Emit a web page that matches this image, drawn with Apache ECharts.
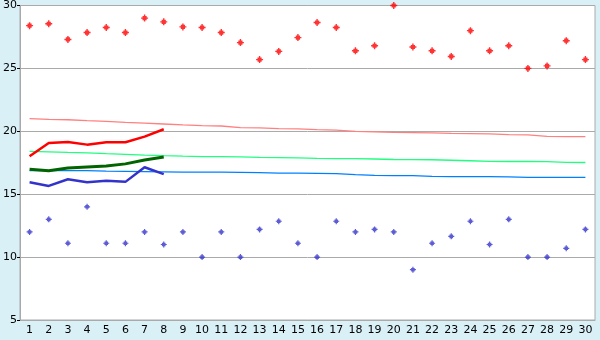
<!DOCTYPE html>
<html><head><meta charset="utf-8">
<script src="https://cdn.jsdelivr.net/npm/echarts@6/dist/echarts.min.js"></script>
<style>html,body{margin:0;padding:0;background:#daf0f7}#c{width:600px;height:340px}</style>
</head><body><div id="c"></div>
<script>
var categories = ['1','2','3','4','5','6','7','8','9','10','11','12','13','14','15','16','17','18','19','20','21','22','23','24','25','26','27','28','29','30'];
var yTicks = [5, 10, 15, 20, 25, 30];
var maxPoints = [28.4,28.55,27.3,27.85,28.25,27.85,29.0,28.7,28.3,28.25,27.85,27.05,25.7,26.35,27.45,28.65,28.25,26.4,26.8,30.0,26.7,26.4,25.95,28.0,26.4,26.8,25.0,25.2,27.2,25.7];
var minPoints = [12.0,13.0,11.1,14.0,11.1,11.1,12.0,11.0,12.0,10.0,12.0,10.0,12.2,12.85,11.1,10.0,12.85,12.0,12.2,12.0,9.0,11.1,11.65,12.85,11.0,13.0,10.0,10.0,10.7,12.2];
var avgMaxLine = [21.0,20.95,20.92,20.85,20.79,20.71,20.65,20.58,20.51,20.45,20.42,20.3,20.27,20.21,20.19,20.13,20.1,19.99,19.96,19.91,19.9,19.88,19.83,19.81,19.79,19.74,19.71,19.6,19.58,19.58];
var avgMeanLine = [18.4,18.37,18.32,18.28,18.22,18.17,18.11,18.06,18.02,17.99,17.98,17.96,17.92,17.91,17.89,17.84,17.83,17.82,17.8,17.76,17.75,17.74,17.7,17.66,17.61,17.6,17.6,17.59,17.53,17.52];
var avgMinLine = [16.88,16.88,16.88,16.87,16.84,16.82,16.8,16.78,16.76,16.75,16.75,16.74,16.72,16.68,16.67,16.66,16.64,16.55,16.49,16.48,16.48,16.42,16.4,16.4,16.4,16.37,16.33,16.33,16.33,16.33];
var curMax = [18.02,19.07,19.15,18.94,19.13,19.13,19.58,20.16];
var curMean = [16.98,16.86,17.09,17.17,17.25,17.41,17.72,17.96];
var curMin = [15.95,15.66,16.19,15.95,16.06,15.98,17.14,16.59];

var markPath = 'path://M2,0 L3,0 L3,1 L4,1 L4,2 L5,2 L5,3 L4,3 L4,4 L3,4 L3,5 L2,5 L2,4 L1,4 L1,3 L0,3 L0,2 L1,2 L1,1 L2,1 Z';
var chart = echarts.init(document.getElementById('c'), null, {renderer:'canvas'});
var font = {fontFamily:'DejaVu Sans', fontSize:11, color:'#000'};
chart.setOption({
  backgroundColor:'#daf0f7',
  animation:false,
  grid:{left:20, right:5, top:5, bottom:20, show:true, backgroundColor:'#fff', borderColor:'#aaa', borderWidth:1},
  xAxis:{type:'category', data:categories, boundaryGap:true,
    axisLine:{lineStyle:{color:'#aaa'}},
    axisTick:{alignWithLabel:true, length:4, lineStyle:{color:'#000'}},
    axisLabel:Object.assign({margin:5, interval:0}, font),
    splitLine:{show:false}},
  yAxis:{type:'value', min:yTicks[0], max:yTicks[yTicks.length-1], interval:5,
    axisLine:{show:true, lineStyle:{color:'#aaa'}},
    axisTick:{show:true, length:3, lineStyle:{color:'#000'}},
    axisLabel:Object.assign({margin:3}, font),
    splitLine:{show:true, lineStyle:{color:'#aaa', width:1}}},
  series:[
    {type:'line', data:avgMaxLine, symbol:'none', lineStyle:{color:'#ff8080', width:1.3}, z:2},
    {type:'line', data:avgMeanLine, symbol:'none', lineStyle:{color:'#20ff80', width:1.3}, z:2},
    {type:'line', data:avgMinLine, symbol:'none', lineStyle:{color:'#0080ff', width:1.3}, z:2},
    {type:'line', data:curMax, symbol:'none', lineStyle:{color:'#ff0000', width:2.5}, z:3},
    {type:'line', data:curMean, symbol:'none', lineStyle:{color:'#006400', width:3}, z:3},
    {type:'line', data:curMin, symbol:'none', lineStyle:{color:'#3333cc', width:2.5}, z:3},
    {type:'scatter', data:maxPoints, symbol:markPath, symbolSize:7, itemStyle:{color:'#ff0000'}, z:4},
    {type:'scatter', data:minPoints, symbol:markPath, symbolSize:6, itemStyle:{color:'#3333cc'}, z:4}
  ]
});
</script></body></html>
